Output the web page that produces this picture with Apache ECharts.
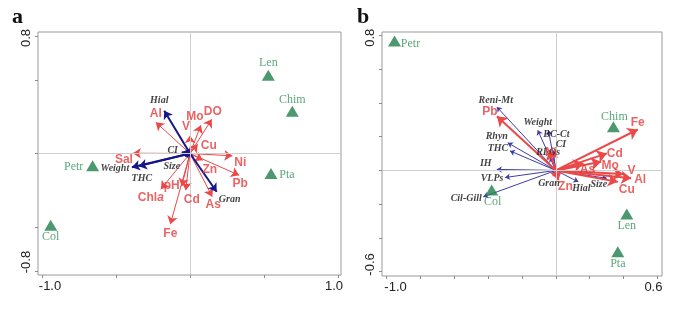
<!DOCTYPE html>
<html><head><meta charset="utf-8">
<script src="https://cdn.jsdelivr.net/npm/echarts@6/dist/echarts.min.js"></script>
<style>html,body{margin:0;padding:0;background:#fff}#c{width:685px;height:312px}</style>
</head><body><div id="c"></div>
<script>
// ---------- Panel a data ----------
const aEnvNames = ['Al','Mo','DO','V','Cu','Ni','Pb','Zn','As','Cd','pH','Chla','Fe','Sal'];
const aEnvX = [-0.231, 0.073, 0.147, 0.0, 0.052, 0.286, 0.332, 0.086, 0.150, -0.029, -0.056, -0.197, -0.133, -0.386];
const aEnvY = [0.213, 0.193, 0.233, 0.124, 0.063, -0.016, -0.148, -0.046, -0.294, -0.250, -0.223, -0.243, -0.481, 0.002];
const aBioNames = ['Hial','Gran','Weight','THC','CI','Size'];
const aBioX = [-0.174, 0.180, -0.393, -0.346, -0.056, -0.035];
const aBioY = [0.291, -0.260, -0.093, -0.086, 0.009, -0.018];
const aSiteNames = ['Len','Chim','Pta','Petr','Col'];
const aSiteX = [0.529, 0.691, 0.547, -0.658, -0.941];
const aSiteY = [0.533, 0.288, -0.136, -0.084, -0.488];
const aXTicks = [-1.0, -0.5, 0, 0.5, 1.0];
const aYTicks = [-0.8, -0.5, 0, 0.5, 0.8];
const aXLabels = [-1.0, 1.0];
const aYLabels = [-0.8, 0.8];

// ---------- Panel b data ----------
const bEnvNames = ['Pb','Ni','Fe','Cd','Mo','As','V','Al','Cu','Zn'];
const bEnvX = [-0.348, -0.040, 0.484, 0.301, 0.267, 0.163, 0.399, 0.445, 0.366, 0.015];
const bEnvY = [0.322, 0.120, 0.243, 0.101, 0.051, 0.042, -0.022, -0.047, -0.068, -0.058];
const bBioNames = ['Reni-Mt','Weight','BC-Ct','CI','RLOs','Rhyn','THC','IH','VLPs','Cil-Gill','Size','Hial','Gran'];
const bBioX = [-0.349, -0.107, -0.044, -0.017, -0.034, -0.284, -0.271, -0.349, -0.300, -0.429, 0.301, 0.133, -0.017];
const bBioY = [0.377, 0.239, 0.239, 0.120, 0.079, 0.164, 0.116, 0.006, -0.042, -0.157, -0.047, -0.068, -0.034];
const bSiteNames = ['Petr','Chim','Len','Pta','Col'];
const bSiteX = [-0.953, 0.340, 0.419, 0.366, -0.379];
const bSiteY = [0.769, 0.259, -0.259, -0.483, -0.117];
const bXTicks = [-1.0, -0.8, -0.6, -0.4, -0.2, 0, 0.2, 0.4, 0.6];
const bYTicks = [-0.6, -0.4, -0.2, 0, 0.2, 0.4, 0.6, 0.8];
const bXLabels = [-1.0, 0.6];
const bYLabels = [-0.6, 0.8];

// ---------- layout (label nudges in px, from arrow tip / site) ----------
const aEnvOff = [[0,-9],[-6,-8],[1,-8],[-4,-9],[11,1],[8,7],[1,8],[7,9],[1,8],[6,9],[-10,-1],[-10,8],[0,10],[-9,6]];
const aBioOff = [[-5,-10],[13,8],[-17,1],[3,12],[-9,-2],[-13,10]];
const aSiteOff = [[0,-12],[0,-11],[16,1],[-19,1],[0,12]];
const bEnvOff = [[-7,-5],[2,2],[0,-7],[8,0],[9,4],[4,6],[8,-3],[9,1],[9,8],[7,7]];
const bBioOff = [[-1,-7],[0,-8],[8,4],[8,-6],[-2,-5],[-11,-6],[-12,-2],[-11,-6],[-13,1],[-17,2],[-8,6],[3,7],[-4,7]];
const bSiteOff = [[16,3],[1,-10],[0,12],[0,12],[1,12]];

const RED = '#e63c3c', REDLINE = '#ec4848';
const BLUE_A = '#16168a', BLUE_B = '#3d3da8';
const GREEN_T = '#1f7f4c', GREEN_TXT = '#2f9158';

const redLabel = {color: RED, fontFamily: 'Liberation Sans', fontWeight: 'bold', fontSize: 12};
const bioLabel = {color: '#111', fontFamily: 'Liberation Serif', fontWeight: 'bold', fontStyle: 'italic', fontSize: 10};
const siteLabel = {color: GREEN_TXT, fontFamily: 'Liberation Serif', fontSize: 12};

function arrows(xs, ys, gi, color, width, head, z) {
  return {type: 'lines', coordinateSystem: 'cartesian2d', xAxisIndex: gi, yAxisIndex: gi, z: z,
    silent: true, symbol: ['none', 'arrow'], symbolSize: head,
    lineStyle: {color: color, width: width, opacity: 1, curveness: 0},
    data: xs.map((x, i) => ({coords: [[0, 0], [x, ys[i]]]}))};
}
function labels(names, xs, ys, offs, gi, style, z) {
  return {type: 'scatter', xAxisIndex: gi, yAxisIndex: gi, symbolSize: 0, z: z, silent: true,
    data: names.map((n, i) => ({name: n, value: [xs[i], ys[i]], label: {offset: offs[i]}})),
    label: Object.assign({show: true, position: 'inside',
      formatter: p => p.name === 'Chla' ? 'Chl{i|a}' : p.name,
      rich: {i: Object.assign({}, style, {fontStyle: 'italic'})}}, style)};
}
function sites(names, xs, ys, offs, gi) {
  return {type: 'scatter', xAxisIndex: gi, yAxisIndex: gi, z: 10, silent: true,
    symbol: 'triangle', symbolSize: [13, 11], itemStyle: {color: GREEN_T},
    data: names.map((n, i) => ({name: n, value: [xs[i], ys[i]], label: {offset: offs[i]}})),
    label: Object.assign({show: true, position: 'inside', formatter: '{b}'}, siteLabel)};
}
function cross(gi) {
  return {type: 'scatter', xAxisIndex: gi, yAxisIndex: gi, data: [], z: 1, silent: true,
    markLine: {silent: true, symbol: 'none', label: {show: false}, animation: false,
      lineStyle: {color: '#cfcfcf', width: 1, type: 'solid'},
      data: [{xAxis: 0}, {yAxis: 0}]}};
}
const axLabStyle = {fontFamily: 'Liberation Sans', fontSize: 13, color: '#222'};
function ax(gi, min, max, ticks, labs, padL, padR, rot) {
  return {gridIndex: gi, type: 'value', min: min, max: max,
    axisLine: {show: false, onZero: false}, splitLine: {show: false},
    axisTick: {show: true, customValues: ticks, length: 3, lineStyle: {color: '#8a8a8a'}},
    axisLabel: Object.assign({customValues: labs, margin: 5, rotate: rot,
      formatter: v => (Math.abs(v - labs[0]) < 1e-9 ? '{l|' : '{r|') + v.toFixed(1) + '}',
      rich: {l: Object.assign({padding: [0, 0, 0, padL]}, axLabStyle), r: Object.assign({padding: [0, padR, 0, 0]}, axLabStyle)}}, axLabStyle)};
}

const chart = echarts.init(document.getElementById('c'));
chart.setOption({
  animation: false,
  backgroundColor: '#fff',
  title: [
    {text: 'a', left: 12, top: 6, padding: 0, textStyle: {fontFamily: 'Liberation Serif', fontWeight: 'bold', fontSize: 22, color: '#111'}},
    {text: 'b', left: 357, top: 6, padding: 0, textStyle: {fontFamily: 'Liberation Serif', fontWeight: 'bold', fontSize: 22, color: '#111'}}
  ],
  grid: [
    {left: 38, top: 32, width: 303, height: 243, show: true, borderColor: '#9a9a9a', borderWidth: 1, backgroundColor: 'transparent'},
    {left: 382, top: 32, width: 280, height: 244, show: true, borderColor: '#9a9a9a', borderWidth: 1, backgroundColor: 'transparent'}
  ],
  xAxis: [ax(0, -1.027, 1.020, aXTicks, aXLabels, 16, 8, 0), ax(1, -1.027, 0.627, bXTicks, bXLabels, 18, 8, 0)],
  yAxis: [ax(0, -0.827, 0.827, aYTicks, aYLabels, 18, 4, 90), ax(1, -0.627, 0.822, bYTicks, bYLabels, 14, 4, 90)],
  series: [
    cross(0), cross(1),
    arrows(aEnvX, aEnvY, 0, REDLINE, 1, 8, 3),
    arrows(aBioX, aBioY, 0, BLUE_A, 2, 8, 4),
    labels(aEnvNames, aEnvX, aEnvY, aEnvOff, 0, redLabel, 6),
    labels(aBioNames, aBioX, aBioY, aBioOff, 0, bioLabel, 6),
    sites(aSiteNames, aSiteX, aSiteY, aSiteOff, 0),
    arrows(bBioX, bBioY, 1, BLUE_B, 1, 5, 3),
    arrows(bEnvX, bEnvY, 1, REDLINE, 2, 10, 4),
    labels(bBioNames, bBioX, bBioY, bBioOff, 1, bioLabel, 6),
    labels(bEnvNames, bEnvX, bEnvY, bEnvOff, 1, redLabel, 6),
    sites(bSiteNames, bSiteX, bSiteY, bSiteOff, 1)
  ]
});
</script></body></html>
